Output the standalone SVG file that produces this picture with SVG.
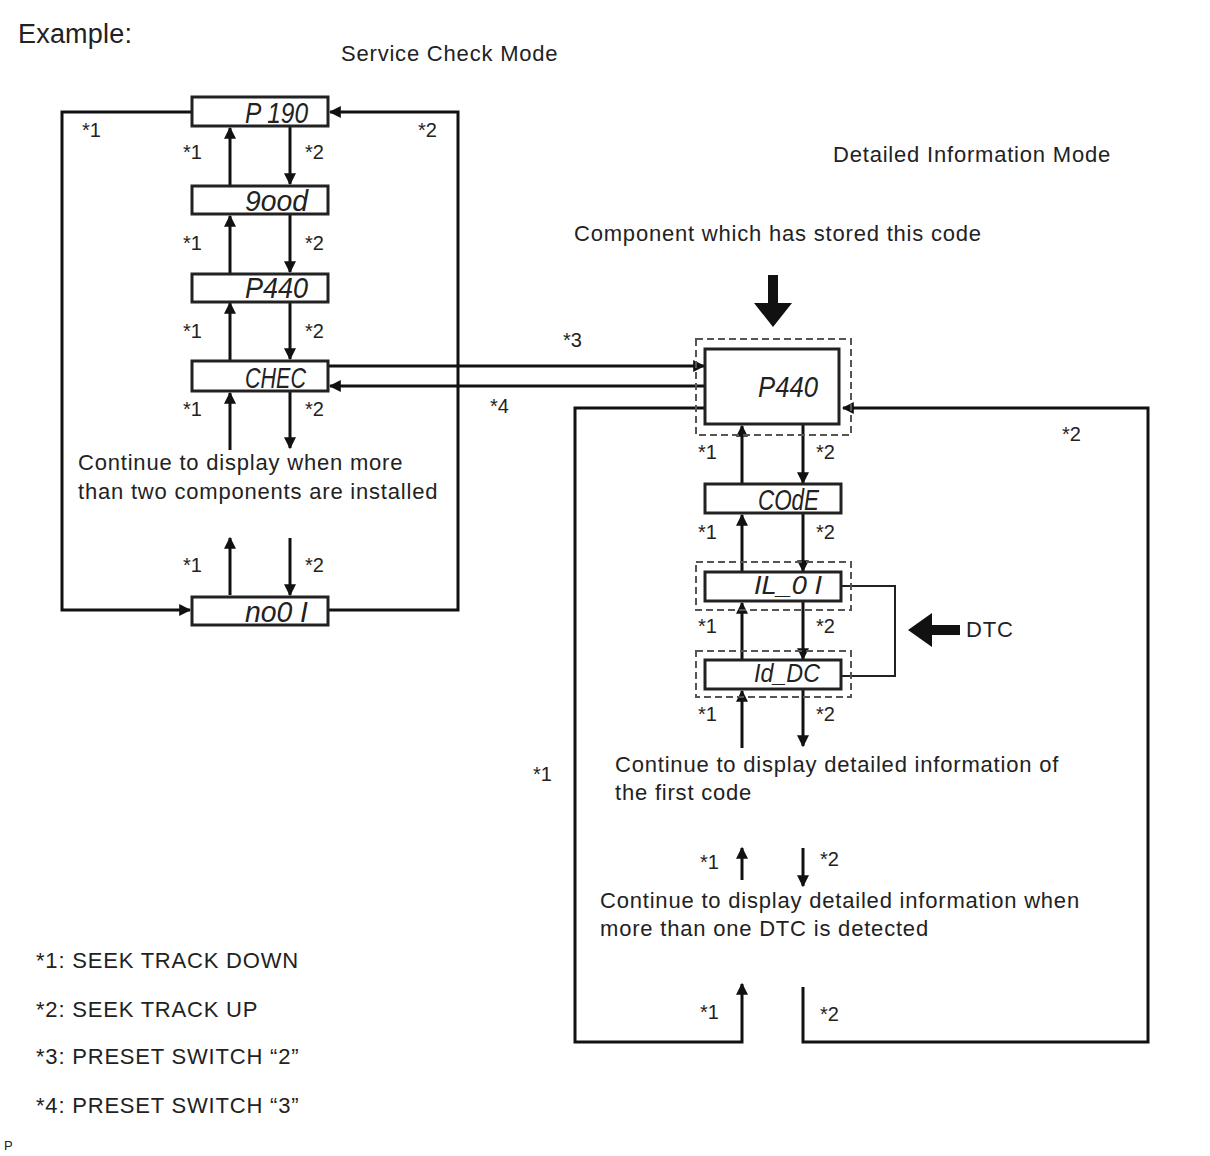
<svg xmlns="http://www.w3.org/2000/svg" width="1210" height="1156" viewBox="0 0 1210 1156">
<style>
.t{font-family:"Liberation Sans",Arial,sans-serif;fill:#222;font-size:22px;letter-spacing:0.8px}
.s{font-family:"Liberation Sans",Arial,sans-serif;fill:#222;font-size:20px}
.lcd{font-family:"Liberation Sans",Arial,sans-serif;font-style:italic;fill:#222;font-size:30px}
.lcd2{font-family:"Liberation Sans",Arial,sans-serif;font-style:italic;fill:#222;font-size:26px}
.box{fill:#fff;stroke:#222;stroke-width:3}
.dash{fill:none;stroke:#555;stroke-width:2;stroke-dasharray:7 4}
.ln{fill:none;stroke:#111;stroke-width:3}
</style>
<defs>
<marker id="ah" viewBox="0 0 10 10" refX="9" refY="5" markerWidth="4" markerHeight="4" orient="auto" markerUnits="strokeWidth">
<path d="M0,0 L10,5 L0,10 z" fill="#111"/>
</marker>
</defs>
<rect width="1210" height="1156" fill="#fff"/>
<text x="18" y="43" class="t" style="font-size:27px;letter-spacing:0.2px">Example:</text>
<text x="341" y="61" class="t">Service Check Mode</text>
<text x="833" y="162" class="t">Detailed Information Mode</text>
<text x="574" y="241" class="t">Component which has stored this code</text>

<g id="connectors">
<polyline class="ln" points="192,112 62,112 62,610 190,610" marker-end="url(#ah)"/>
<polyline class="ln" points="328,610 458,610 458,112 330,112" marker-end="url(#ah)"/>
<line class="ln" x1="230" y1="186" x2="230" y2="128" marker-end="url(#ah)"/>
<line class="ln" x1="290" y1="127" x2="290" y2="184" marker-end="url(#ah)"/>
<line class="ln" x1="230" y1="273" x2="230" y2="216" marker-end="url(#ah)"/>
<line class="ln" x1="290" y1="215" x2="290" y2="272" marker-end="url(#ah)"/>
<line class="ln" x1="230" y1="361" x2="230" y2="303" marker-end="url(#ah)"/>
<line class="ln" x1="290" y1="302" x2="290" y2="359" marker-end="url(#ah)"/>
<line class="ln" x1="230" y1="450" x2="230" y2="393" marker-end="url(#ah)"/>
<line class="ln" x1="290" y1="392" x2="290" y2="448" marker-end="url(#ah)"/>
<line class="ln" x1="230" y1="595" x2="230" y2="538" marker-end="url(#ah)"/>
<line class="ln" x1="290" y1="538" x2="290" y2="595" marker-end="url(#ah)"/>
<line class="ln" x1="328" y1="366" x2="704" y2="366" marker-end="url(#ah)"/>
<line class="ln" x1="705" y1="386" x2="330" y2="386" marker-end="url(#ah)"/>
<line class="ln" x1="742" y1="484" x2="742" y2="426" marker-end="url(#ah)"/>
<line class="ln" x1="803" y1="424" x2="803" y2="483" marker-end="url(#ah)"/>
<line class="ln" x1="742" y1="572" x2="742" y2="515" marker-end="url(#ah)"/>
<line class="ln" x1="803" y1="513" x2="803" y2="571" marker-end="url(#ah)"/>
<line class="ln" x1="742" y1="660" x2="742" y2="603" marker-end="url(#ah)"/>
<line class="ln" x1="803" y1="601" x2="803" y2="659" marker-end="url(#ah)"/>
<line class="ln" x1="742" y1="748" x2="742" y2="691" marker-end="url(#ah)"/>
<line class="ln" x1="803" y1="689" x2="803" y2="746" marker-end="url(#ah)"/>
<line class="ln" x1="742" y1="880" x2="742" y2="848" marker-end="url(#ah)"/>
<line class="ln" x1="803" y1="848" x2="803" y2="886" marker-end="url(#ah)"/>
<polyline class="ln" points="705,408 575,408 575,1042 742,1042 742,984" marker-end="url(#ah)"/>
<polyline class="ln" points="803,987 803,1042 1148,1042 1148,408 843,408" marker-end="url(#ah)"/>
<polyline fill="none" stroke="#222" stroke-width="2" points="841,586 895,586 895,676 841,676"/>
<path d="M768,275 h10 v28 h14 l-19,24 l-19,-24 h14 z" fill="#111"/>
<path d="M960,625 v10 h-28 v12 l-24,-17 l24,-17 v12 z" fill="#111"/>
</g>

<g id="n-p190"><rect class="box" x="192" y="97" width="136" height="29"/><text class="lcd" x="245" y="123" textLength="63" lengthAdjust="spacingAndGlyphs">P 190</text></g>
<g id="n-good"><rect class="box" x="192" y="186" width="136" height="28"/><text class="lcd" x="245" y="211" textLength="63" lengthAdjust="spacingAndGlyphs">9ood</text></g>
<g id="n-p440a"><rect class="box" x="192" y="274" width="136" height="28"/><text class="lcd" x="245" y="298" textLength="63" lengthAdjust="spacingAndGlyphs">P440</text></g>
<g id="n-chec"><rect class="box" x="192" y="361" width="136" height="30"/><text class="lcd" x="245" y="388" textLength="61" lengthAdjust="spacingAndGlyphs">CHEC</text></g>
<g id="n-no01"><rect class="box" x="192" y="597" width="136" height="28"/><text class="lcd" x="245" y="622" textLength="63" lengthAdjust="spacingAndGlyphs">no0 I</text></g>

<g id="n-p440b"><rect class="dash" x="696" y="339" width="155" height="96"/><rect class="box" x="705" y="349" width="134" height="75"/><text class="lcd" x="758" y="397" textLength="60" lengthAdjust="spacingAndGlyphs">P440</text></g>
<g id="n-code"><rect class="box" x="705" y="484" width="136" height="29"/><text class="lcd" x="758" y="510" textLength="61" lengthAdjust="spacingAndGlyphs">COdE</text></g>
<g id="n-il01"><rect class="dash" x="696" y="562" width="155" height="48"/><rect class="box" x="705" y="572" width="136" height="29"/><text class="lcd2" x="754" y="594" textLength="68" lengthAdjust="spacingAndGlyphs">IL_0 I</text></g>
<g id="n-iddc"><rect class="dash" x="696" y="651" width="155" height="46"/><rect class="box" x="705" y="660" width="136" height="29"/><text class="lcd2" x="754" y="682" textLength="66" lengthAdjust="spacingAndGlyphs">Id_DC</text></g>

<g id="labels">
<text x="82" y="137" class="s">*1</text>
<text x="418" y="137" class="s">*2</text>
<text x="183" y="159" class="s">*1</text><text x="305" y="159" class="s">*2</text>
<text x="183" y="250" class="s">*1</text><text x="305" y="250" class="s">*2</text>
<text x="183" y="338" class="s">*1</text><text x="305" y="338" class="s">*2</text>
<text x="183" y="416" class="s">*1</text><text x="305" y="416" class="s">*2</text>
<text x="183" y="572" class="s">*1</text><text x="305" y="572" class="s">*2</text>
<text x="78" y="470" class="t">Continue to display when more</text>
<text x="78" y="499" class="t">than two components are installed</text>
<text x="563" y="347" class="s">*3</text>
<text x="490" y="413" class="s">*4</text>
<text x="1062" y="441" class="s">*2</text>
<text x="698" y="459" class="s">*1</text><text x="816" y="459" class="s">*2</text>
<text x="698" y="539" class="s">*1</text><text x="816" y="539" class="s">*2</text>
<text x="698" y="633" class="s">*1</text><text x="816" y="633" class="s">*2</text>
<text x="698" y="721" class="s">*1</text><text x="816" y="721" class="s">*2</text>
<text x="966" y="637" class="t">DTC</text>
<text x="615" y="772" class="t">Continue to display detailed information of</text>
<text x="615" y="800" class="t">the first code</text>
<text x="533" y="781" class="s">*1</text>
<text x="700" y="869" class="s">*1</text><text x="820" y="866" class="s">*2</text>
<text x="600" y="908" class="t">Continue to display detailed information when</text>
<text x="600" y="936" class="t">more than one DTC is detected</text>
<text x="700" y="1019" class="s">*1</text><text x="820" y="1021" class="s">*2</text>
<text x="36" y="968" class="t">*1: SEEK TRACK DOWN</text>
<text x="36" y="1017" class="t">*2: SEEK TRACK UP</text>
<text x="36" y="1064" class="t">*3: PRESET SWITCH “2”</text>
<text x="36" y="1113" class="t">*4: PRESET SWITCH “3”</text>
<text x="4" y="1150" class="s" style="font-size:13px">P</text>
</g>
</svg>
